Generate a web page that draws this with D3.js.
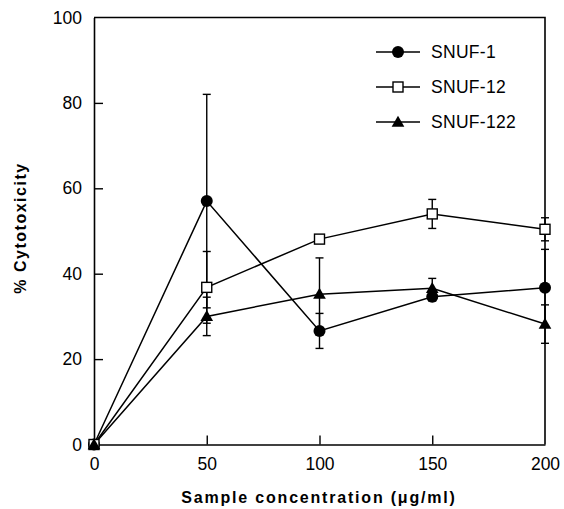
<!DOCTYPE html>
<html>
<head>
<meta charset="utf-8">
<script src="https://cdn.jsdelivr.net/npm/d3@7"></script>
<style>
  body { margin: 0; background: #fff; }
  svg text { font-family: "Liberation Sans", Arial, sans-serif; fill: #000; }
</style>
</head>
<body>
<svg id="chart"></svg>
<script>
// concentrations (µg/ml)
const concentrations = [0, 50, 100, 150, 200];

// % cytotoxicity, mean and error
const snuf1 = [0, 57, 26.6, 34.6, 36.7];
const snuf1Err = [0, 25, 4.1, 1, 9];
const snuf12 = [0, 36.8, 48.1, 54, 50.4];
const snuf12Err = [0, 8.4, 0.5, 3.4, 2.7];
const snuf122 = [0, 30, 35.2, 36.6, 28.2];
const snuf122Err = [0, 4.5, 8.5, 2.3, 4.5];

const seriesNames = ["SNUF-1", "SNUF-12", "SNUF-122"];
const xTicks = [0, 50, 100, 150, 200];
const yTicks = [0, 20, 40, 60, 80, 100];

const width = 564, height = 509;
const margin = { top: 17.5, right: 19, bottom: 64.5, left: 94 };

const svg = d3.select("#chart").attr("width", width).attr("height", height);

const x = d3.scaleLinear().domain([0, 200]).range([margin.left, width - margin.right]);
const y = d3.scaleLinear().domain([0, 100]).range([height - margin.bottom, margin.top]);

const series = [
  { name: seriesNames[0], values: snuf1, err: snuf1Err, marker: "circle" },
  { name: seriesNames[1], values: snuf12, err: snuf12Err, marker: "square" },
  { name: seriesNames[2], values: snuf122, err: snuf122Err, marker: "triangle" }
];

// frame (top and right)
svg.append("path")
  .attr("d", `M${x(0)},${y(100)}H${x(200)}V${y(0)}`)
  .attr("fill", "none").attr("stroke", "#000").attr("stroke-width", 1.6);

// axes, ticks pointing inward
const xAxis = svg.append("g")
  .attr("transform", `translate(0,${y(0)})`)
  .call(d3.axisBottom(x).tickValues(xTicks).tickSizeInner(-9).tickSizeOuter(0).tickPadding(13));
const yAxis = svg.append("g")
  .attr("transform", `translate(${x(0)},0)`)
  .call(d3.axisLeft(y).tickValues(yTicks).tickSizeInner(-9).tickSizeOuter(0).tickPadding(12));

[xAxis, yAxis].forEach(g => {
  g.select(".domain").attr("stroke-width", 1.6);
  g.selectAll(".tick line").attr("stroke-width", 1.4);
  g.selectAll(".tick text").style("font-size", "17.5px").attr("fill", "#000");
});
xAxis.selectAll(".tick").filter(d => d === 0 || d === 200).select("line").remove();
yAxis.selectAll(".tick").filter(d => d === 0 || d === 100).select("line").remove();

// axis titles
svg.append("text")
  .attr("x", 319)
  .attr("y", 503)
  .attr("text-anchor", "middle")
  .style("font-size", "16px").style("font-weight", "bold").style("letter-spacing", "1.8px")
  .text("Sample concentration (\u03bcg/ml)");

svg.append("text")
  .attr("transform", `translate(26,228) rotate(-90)`)
  .attr("text-anchor", "middle")
  .style("font-size", "16px").style("font-weight", "bold").style("letter-spacing", "1.5px")
  .text("% Cytotoxicity");

// markers
function drawMarker(g, type, cx, cy) {
  if (type === "circle") {
    g.append("circle").attr("cx", cx).attr("cy", cy).attr("r", 6).attr("fill", "#000");
  } else if (type === "square") {
    g.append("rect").attr("x", cx - 5).attr("y", cy - 5).attr("width", 10).attr("height", 10)
      .attr("fill", "#fff").attr("stroke", "#000").attr("stroke-width", 1.4);
  } else {
    g.append("path").attr("d", d3.symbol(d3.symbolTriangle, 70)())
      .attr("transform", `translate(${cx},${cy + 1})`).attr("fill", "#000");
  }
}

const line = d3.line().x((d, i) => x(concentrations[i])).y(d => y(d));

// lines
series.forEach(s => {
  svg.append("path").datum(s.values).attr("d", line)
    .attr("fill", "none").attr("stroke", "#000").attr("stroke-width", 1.5);
});

// error bars
series.forEach(s => {
  const g = svg.append("g").attr("stroke", "#000").attr("stroke-width", 1.4);
  s.values.forEach((v, i) => {
    if (!s.err[i]) return;
    const cx = x(concentrations[i]);
    const hi = y(v + s.err[i]), lo = y(v - s.err[i]);
    g.append("line").attr("x1", cx).attr("x2", cx).attr("y1", hi).attr("y2", lo);
    g.append("line").attr("x1", cx - 4).attr("x2", cx + 4).attr("y1", hi).attr("y2", hi);
    g.append("line").attr("x1", cx - 4).attr("x2", cx + 4).attr("y1", lo).attr("y2", lo);
  });
});

// points
series.forEach(s => {
  const g = svg.append("g");
  s.values.forEach((v, i) => drawMarker(g, s.marker, x(concentrations[i]), y(v)));
});

// legend
const legend = svg.append("g");
series.forEach((s, i) => {
  const ly = 52 + i * 35;
  legend.append("line").attr("x1", 376).attr("x2", 420).attr("y1", ly).attr("y2", ly)
    .attr("stroke", "#000").attr("stroke-width", 1.5);
  drawMarker(legend, s.marker, 398, ly);
  legend.append("text").attr("x", 431).attr("y", ly + 6)
    .style("font-size", "17.5px").style("letter-spacing", "0.3px").text(s.name);
});
</script>
</body>
</html>
